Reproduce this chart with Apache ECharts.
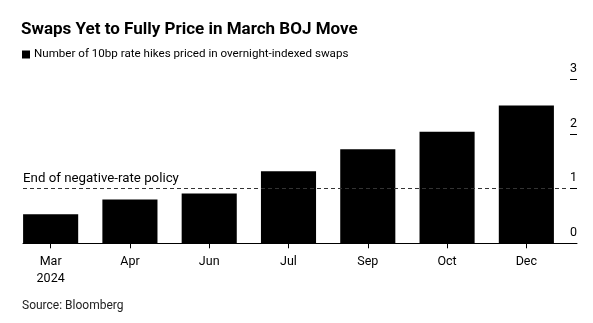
<!DOCTYPE html>
<html>
<head>
<meta charset="utf-8">
<script src="https://cdn.jsdelivr.net/npm/echarts@6/dist/echarts.min.js"></script>
<style>
html,body{margin:0;padding:0;background:#fff;}
#c{width:593px;height:323px;}
</style>
</head>
<body>
<div id="c"></div>
<script>
var categories = ['Mar', 'Apr', 'Jun', 'Jul', 'Sep', 'Oct', 'Dec'];
var yearLabel = '2024';
var hikes = [0.53, 0.80, 0.91, 1.32, 1.72, 2.04, 2.52];
var policyLevel = 1;
var yTicks = [0, 1, 2, 3];

var chart = echarts.init(document.getElementById('c'), null, {renderer: 'canvas'});
var font = 'Roboto, "Liberation Sans", Arial, sans-serif';
var gridTop = 79.3, gridBottom = 79.7;
chart.setOption({
  animation: false,
  textStyle: {fontFamily: font},
  title: [
    {text: 'Swaps Yet to Fully Price in March BOJ Move', left: 21, top: 21, padding: 0,
     textStyle: {fontFamily: font, fontWeight: 'bold', fontSize: 17, color: '#000'}},
    {text: 'Source: Bloomberg', left: 22, top: 300, padding: 0,
     textStyle: {fontFamily: font, fontWeight: 'normal', fontSize: 12, color: '#222'}}
  ],
  legend: {
    left: 22, top: 48.5, padding: 0, itemWidth: 8, itemHeight: 8, icon: 'rect', itemGap: 5,
    textStyle: {fontFamily: font, fontSize: 11.6, color: '#000', padding: [0, 0, 0, -1]},
    data: ['Number of 10bp rate hikes priced in overnight-indexed swaps']
  },
  grid: [
    {left: 11, right: 27, top: gridTop, bottom: gridBottom},
    {left: 23, right: 16, top: gridTop, bottom: gridBottom},
    {left: 23, right: 27, top: gridTop, bottom: gridBottom}
  ],
  xAxis: [
    {type: 'category', gridIndex: 0, data: categories,
     axisLine: {show: false},
     axisTick: {show: true, alignWithLabel: true, length: 5, lineStyle: {color: '#000'}},
     axisLabel: {color: '#000', fontSize: 12.5, margin: 10, lineHeight: 17,
       formatter: function (v, i) { return i === 0 ? v + '\n' + yearLabel : v; }}},
    {type: 'value', gridIndex: 1, min: 0, max: 1, show: true,
     axisLine: {show: true, onZero: false, lineStyle: {color: '#000', width: 1}},
     axisTick: {show: false}, axisLabel: {show: false}, splitLine: {show: false}},
    {type: 'value', gridIndex: 2, min: 0, max: 1, show: false}
  ],
  yAxis: [
    {type: 'value', gridIndex: 0, min: 0, max: 3, show: false},
    {type: 'value', gridIndex: 1, min: 0, max: 3, interval: 1, position: 'right',
     axisLine: {show: false, onZero: false},
     axisTick: {show: true, inside: true, length: 7, lineStyle: {color: '#000'}},
     axisLabel: {inside: true, color: '#000', fontSize: 12.5, margin: 0,
       verticalAlign: 'bottom', align: 'right', padding: [0, 0, 4, 0],
       formatter: function (v) { return yTicks.indexOf(v) >= 0 ? String(v) : ''; }},
     splitLine: {show: false}},
    {type: 'value', gridIndex: 2, min: 0, max: 3, show: false}
  ],
  series: [
    {name: 'Number of 10bp rate hikes priced in overnight-indexed swaps', type: 'bar',
     xAxisIndex: 0, yAxisIndex: 0, data: hikes, barCategoryGap: '30.5%',
     itemStyle: {color: '#000'}, z: 2},
    {type: 'line', xAxisIndex: 2, yAxisIndex: 2, data: [], silent: true, z: 5,
     markLine: {symbol: 'none', silent: true,
       lineStyle: {type: [4, 3], color: '#333', width: 1},
       label: {show: true, position: 'insideStartTop', formatter: 'End of negative-rate policy',
         color: '#000', fontSize: 13.3, fontFamily: font, distance: [0, 3]},
       data: [{yAxis: policyLevel}]}}
  ]
});
</script>
</body>
</html>
